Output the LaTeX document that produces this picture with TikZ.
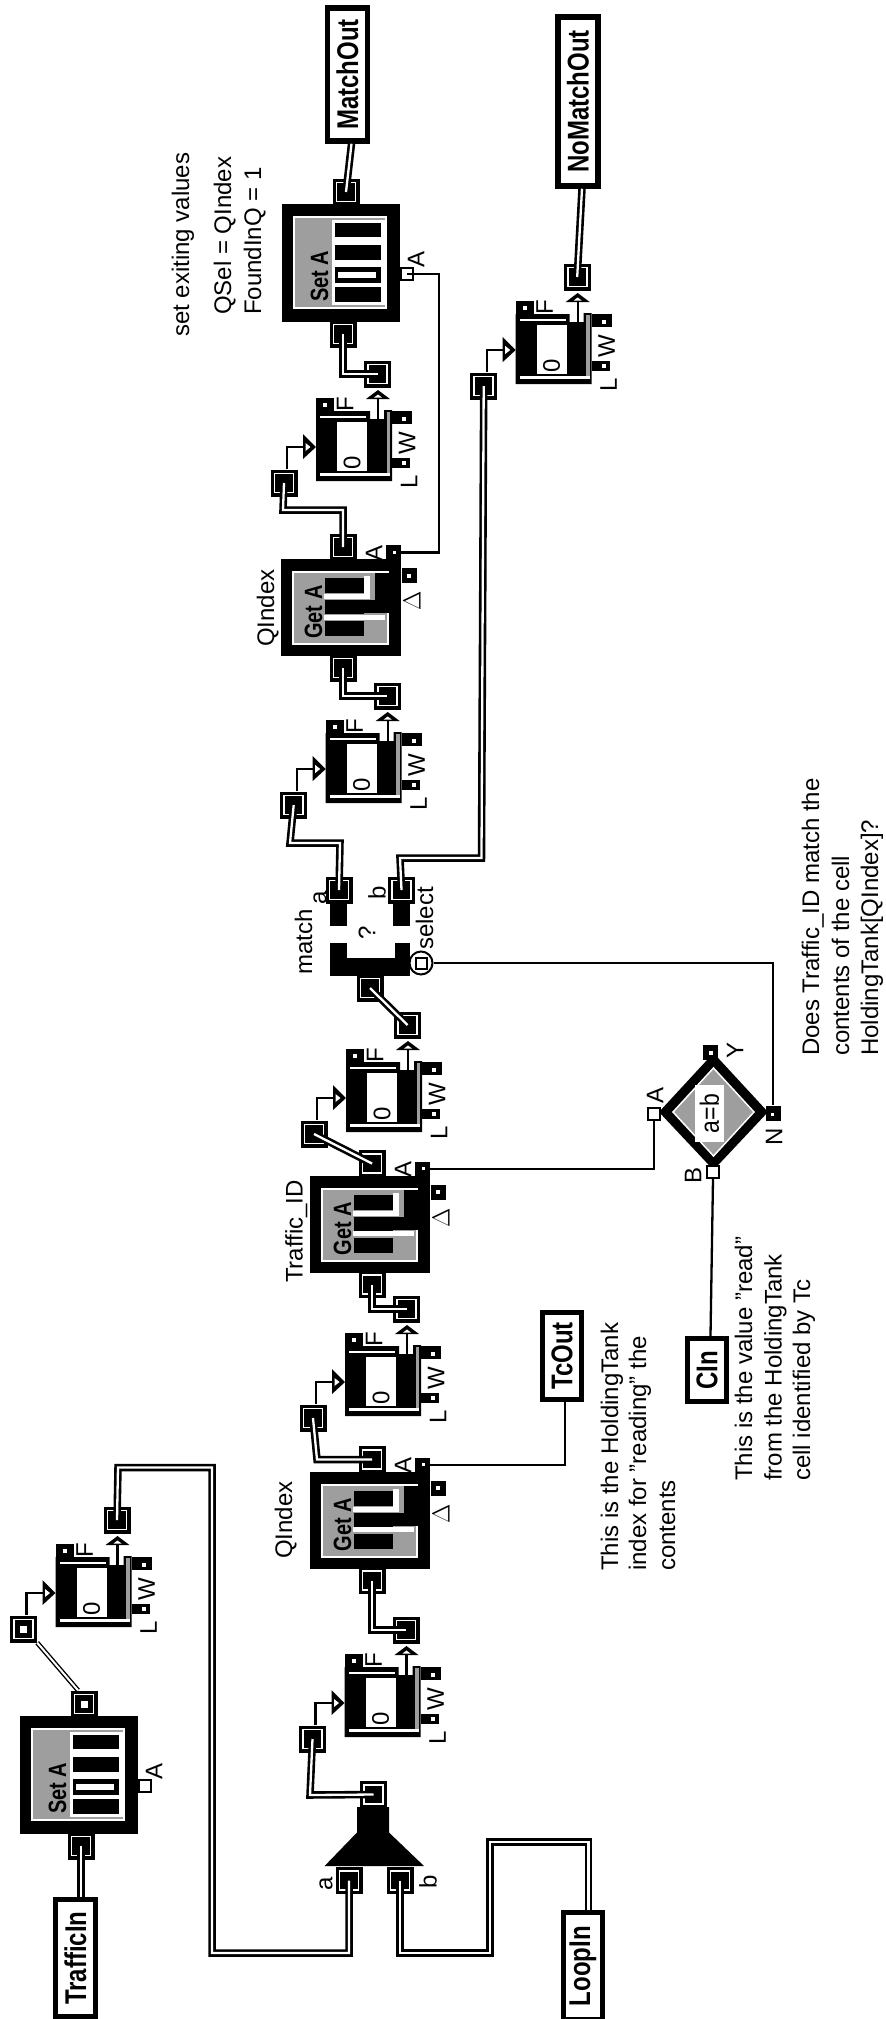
\documentclass[tikz,border=0pt]{standalone}
\usepackage{fontspec}
\usepackage{graphicx}
\setmainfont{Liberation Sans}
\definecolor{dith}{gray}{0.62}
\newcommand{\vst}[2]{\scalebox{1}[#1]{#2}}
\tikzset{
  lab/.style={font=\fontsize{24}{26}\selectfont,rotate=90,anchor=base west,inner sep=0pt},
  smalllab/.style={font=\fontsize{24}{26}\selectfont,rotate=90,inner sep=0pt},
  blocklab/.style={font=\bfseries\fontsize{20}{22}\selectfont,rotate=90,anchor=base west,inner sep=0pt},
  iobox/.style={draw=black,fill=white,line width=5.5pt,rotate=90,inner sep=0pt,font=\bfseries\fontsize{24}{26}\selectfont},
  bportn/.style={fill=black,inner sep=0pt,minimum size=27pt},
  bportin/.style={draw=white,fill=black,line width=1.6pt,inner sep=0pt,minimum size=19pt},
  sportn/.style={fill=black,inner sep=0pt,minimum size=15pt},
  sdot/.style={fill=white,inner sep=0pt,minimum size=4pt},
  hport/.style={draw=black,fill=white,line width=2pt,inner sep=0pt,minimum size=12pt},
  wire/.style={draw=black,line width=2.6pt,double=white,double distance=2.3pt,line join=miter},
  thinwire/.style={draw=black,line width=1.4pt,double=white,double distance=2pt},
  sig/.style={draw=black,line width=2.3pt},
}
\newcommand{\bport}[3]{\node[bportn] (#1) at (#2,#3) {}; \node[bportin] (#1-i) at (#2,#3) {};}
\newcommand{\regblock}[3]{%
\begin{scope}[shift={(#2,#3)}]
  \fill (0,0) -- (54,0) -- (54,8) -- (68,8) -- (68,-1) -- (76,-1) -- (76,70) -- (0,70) -- cycle;
  \fill[white] (4,4.5) rectangle (50,6.7);
  \fill[white] (4,62) rectangle (74,65);
  \fill[dith] (70.5,1) rectangle (74,62);
  \fill[white] (21,11) rectangle (51,60);
  \node[smalllab] (#1-zero) at (36,52) {0};
  \fill (0,-13) rectangle (18,0);
  \node[sdot] (#1-fd) at (9,-6) {};
  \node[smalllab] (#1-ft) at (29,-7) {F};
  \fill (76,0) rectangle (96,13);
  \node[sdot] (#1-wd) at (88,8) {};
  \node[smalllab] (#1-wt) at (91,32) {W};
  \fill (76,47) rectangle (94,57);
  \node[sdot] (#1-ld) at (88,52) {};
  \node[smalllab] (#1-lt) at (93,71) {L};
  \fill (50,-12) -- (74,-12) -- (62,-21) -- cycle;
  \fill[white] (58,-13.5) -- (66,-13.5) -- (62,-16.5) -- cycle;
  \fill (-13,23) -- (-13,48) -- (0,36) -- cycle;
  \fill[white] (-10.5,32) -- (-10.5,40) -- (-5.5,36) -- cycle;
  \coordinate (#1-body) at (62,8);
  \coordinate (#1-tip) at (62,-12);
  \coordinate (#1-ti) at (-13,36);
  \bport{#1-out}{61.5}{-37}
  \bport{#1-in}{-32}{72}
  \draw[sig] (#1-body) -- (#1-tip);
  \draw[sig] ([xshift=3pt]#1-in.north) |- (#1-ti);
\end{scope}}
\newcommand{\getblock}[3]{%
\begin{scope}[shift={(#2,#3)}]
  \fill (0,0) rectangle (120,97);
  \fill[white] (11,12) rectangle (108,86);
  \fill[dith] (13,14) rectangle (106,84);
  \fill[white] (43,35) rectangle (89,40);
  \fill[white] (43,55.5) rectangle (104,60.5);
  \fill[white] (83,17) rectangle (89,40);
  \fill (44,19) rectangle (83,34);
  \fill (44,41) rectangle (83,55);
  \fill (44,62) rectangle (83,77);
  \fill (94,14) rectangle (108,50);
  \fill (83,41) rectangle (108,54);
  \node[blocklab] (#1-t) at (41,80) {\vst{1.25}{Get A}};
  \bport{#1-top}{62}{-12}
  \bport{#1-bot}{62}{109}
  \node[sportn] (#1-a) at (112,-6.5) {};
  \node[sdot,minimum size=3pt] (#1-ad) at (113,-7) {};
  \node[sportn] (#1-d) at (128,16.5) {};
  \node[sdot] (#1-dd) at (128,16.5) {};
  \node[smalllab] (#1-at) at (93,-6) {A};
  \node[smalllab] (#1-dt) at (131,42) {\(\Delta\)};
\end{scope}}
\newcommand{\setblock}[3]{%
\begin{scope}[shift={(#2,#3)}]
  \fill (0,0) rectangle (118,118);
  \fill[white] (11,12) rectangle (105,105);
  \fill[dith] (13,14) rectangle (103,103);
  \fill[white] (50,16) rectangle (103,101);
  \fill (53,19) rectangle (99,33);
  \fill (53,41) rectangle (99,56);
  \fill (53,63) rectangle (99,79);
  \fill[white] (56,68) rectangle (94,74);
  \fill (53,83) rectangle (99,98);
  \node[blocklab] (#1-t) at (46,98) {\vst{1.25}{Set A}};
  \node[hport] (#1-a) at (125,70) {};
  \node[smalllab] (#1-at) at (134,55) {A};
  \bport{#1-top}{64}{-12}
  \bport{#1-bot}{61}{130}
\end{scope}}
\begin{document}
\begin{tikzpicture}[x=1pt,y=-1pt]
\useasboundingbox[fill=white] (0,0) rectangle (886,2019);

% blocks
\setblock{s1}{20}{1716}
\setblock{s2}{282}{204}
\getblock{g1}{310}{1471.5}
\getblock{g2}{310}{1175.5}
\getblock{g3}{281}{559}
\regblock{r1}{55.5}{1557}
\regblock{r2}{344.5}{1667}
\regblock{r3}{345}{1346}
\regblock{r4}{346}{1062}
\regblock{r5}{325.7}{733}
\regblock{r6}{316}{411}
\regblock{r7}{515.7}{314}
\node[sdot,minimum size=7pt] (s1-top-d) at (s1-top) {};
\node[sdot,minimum size=7pt] (r1-in-d) at (r1-in) {};

% IO boxes
\node[iobox,minimum width=117pt,minimum height=40pt] (trafficin) at (75.5,1958) {\vst{1.25}{TrafficIn}};
\node[iobox,minimum width=107pt,minimum height=39pt] (loopin) at (583,1966) {\vst{1.25}{LoopIn}};
\node[iobox,minimum width=87pt,minimum height=39pt] (tcout) at (562,1356) {\vst{1.25}{TcOut}};
\node[iobox,minimum width=63pt,minimum height=39pt] (cin) at (707,1370) {\vst{1.25}{CIn}};
\node[iobox,minimum width=133pt,minimum height=40pt] (matchout) at (347.5,74.5) {\vst{1.25}{MatchOut}};
\node[iobox,minimum width=169pt,minimum height=40pt] (nomatchout) at (578,101.5) {\vst{1.25}{NoMatchOut}};

% merge (lower)
\fill (324.6,1866) -- (424,1866) -- (389,1832.5) -- (389,1807) -- (357,1807) -- (357,1832.5) -- cycle;
\bport{mxa}{349}{1880.5}
\bport{mxb}{400}{1880.5}
\bport{mxo}{373.5}{1794.5}
\node[smalllab] (mxat) at (326,1884) {a};
\node[smalllab] (mxbt) at (428,1882) {b};

% selector (match)
\fill (330,976) rectangle (410,958);
\fill (330,958) rectangle (347,943);
\fill (395,958) rectangle (410,943);
\fill (330,926) rectangle (347,903);
\fill (393,926) rectangle (410,903);
\bport{mza}{339}{890}
\bport{mzb}{401.5}{890}
\bport{mzo}{370}{988}
\node[smalllab] (mzq) at (367,933) {?};
\node[smalllab] (mzat) at (320,898) {a};
\node[smalllab] (mzbt) at (377,893) {b};
\node[circle,draw=black,fill=white,line width=2pt,inner sep=0pt,minimum size=23pt] (sel) at (421,963) {};
\node[draw=black,line width=2pt,inner sep=0pt,minimum size=11pt] (seli) at (421,963) {};

% comparator
\fill (713.5,1053) -- (768,1112) -- (713.5,1170) -- (659,1112) -- cycle;
\filldraw[fill=dith,draw=white,line width=1.5pt] (713.5,1068) -- (754,1112) -- (713.5,1156) -- (673,1112) -- cycle;
\node[fill=white,rotate=90,minimum width=57pt,minimum height=28.5pt,inner sep=0pt,font=\fontsize{23}{24}\selectfont] (eq) at (709.5,1113.5) {\vst{1.15}{a=b}};
\node[hport] (cma) at (654,1113.5) {};
\node[sportn] (cmn) at (773,1113) {};
\node[sdot,minimum size=3pt] (cmnd) at (772,1114) {};
\node[sportn] (cmy) at (710.5,1052) {};
\node[sdot] (cmyd) at (710.5,1053) {};
\node[hport] (cmb) at (713,1172) {};
\node[smalllab] (cmat) at (655,1095) {A};
\node[smalllab] (cmnt) at (774,1137) {N};
\node[smalllab] (cmyt) at (735,1050) {Y};
\node[smalllab] (cmbt) at (693,1175) {B};

% wires
\draw[wire] ([xshift=5.5pt]trafficin.east) -- (s1-bot.center);
\draw[thinwire] (s1-top.north) ++(-6,0) -- (r1-in.south east);
\coordinate (w2a) at (118,1467.5);
\coordinate (w2b) at (212,1467.5);
\coordinate (w2c) at (212,1953);
\coordinate (w2d) at (349,1953);
\draw[wire] (r1-out.center) -- (w2a) -- (w2b) -- (w2c) -- (w2d) -- (mxa.center);
\coordinate (w3a) at (400,1953);
\coordinate (w3b) at (490,1953);
\coordinate (w3c) at (490,1842);
\coordinate (w3d) at (588.5,1842);
\draw[wire] (mxb.center) -- (w3a) -- (w3b) -- (w3c) -- (w3d) -- ([xshift=5.5pt]loopin.east);
\coordinate (w4a) at (310,1795);
\draw[wire] (mxo.center) -- (w4a) -- (r2-in.center);
\draw[wire] (g1-bot.center) |- (r2-out.center);
\coordinate (w5a) at (317,1459.5);
\draw[wire] (g1-top.center) -- (w5a) -- (r3-in.center);
\draw[wire] (g2-bot.center) |- (r3-out.center);
\draw[wire] (g2-top.center) -- (r4-in.center);
\draw[wire] (r4-out.center) -- (mzo.center);
\coordinate (w6a) at (290,843);
\coordinate (w6b) at (340,843);
\draw[wire] (r5-in.center) -- (w6a) -- (w6b) -- (mza.center);
\draw[wire] (g3-bot.center) |- (r5-out.center);
\coordinate (w7a) at (343,510);
\coordinate (w7b) at (283,510);
\draw[wire] (g3-top.center) -- (w7a) -- (w7b) -- (r6-in.center);
\draw[wire] (s2-bot.center) |- (r6-out.center);
\draw[wire] (s2-top.center) -- ([xshift=4pt]matchout.west);
\coordinate (w8a) at (481.5,858);
\coordinate (w8b) at (400,858);
\draw[wire] (mzb.center) -- (w8b) -- (w8a) -- (r7-in.center);
\draw[wire] (r7-out.center) -- ([xshift=4pt]nomatchout.west);

% signal lines
\draw[sig] (g1-a.east) -| ([xshift=3pt]tcout.west);
\draw[sig] (g2-a.east) -| (cma.south);
\draw[sig] ([xshift=3.5pt]cin.east) -- (cmb.south);
\draw[sig] (sel.east) -| (cmn.north);
\coordinate (sg) at (439,274);
\draw[sig] (g3-a.east) -| (sg) -- (s2-a.center);

% labels
\node[lab] (q1) at (292,1559) {QIndex};
\node[lab] (q2) at (274,647) {QIndex};
\node[lab] (tid) at (302.5,1283) {Traffic\_ID};
\node[lab] (mt) at (312,975) {match};
\node[lab] (st) at (433,950) {select};
\node[lab] (n1) at (189,337) {set exiting values};
\node[lab] (n2) at (231,315) {QSel = QIndex};
\node[lab] (n3) at (261,315) {FoundInQ = 1};
\node[lab] (n4) at (618,1571) {This is the HoldingTank};
\node[lab] (n5) at (646,1571) {index for "reading" the};
\node[lab] (n6) at (675,1571) {contents};
\node[lab] (n7) at (752,1481) {This is the value "read"};
\node[lab] (n8) at (781.5,1481) {from the HoldingTank};
\node[lab] (n9) at (810,1481) {cell identified by Tc};
\node[lab] (n10) at (819,1056) {Does Traffic\_ID match the};
\node[lab] (n11) at (849,1056) {contents of the cell};
\node[lab] (n12) at (878,1056) {HoldingTank[QIndex]?};
\end{tikzpicture}
\end{document}
